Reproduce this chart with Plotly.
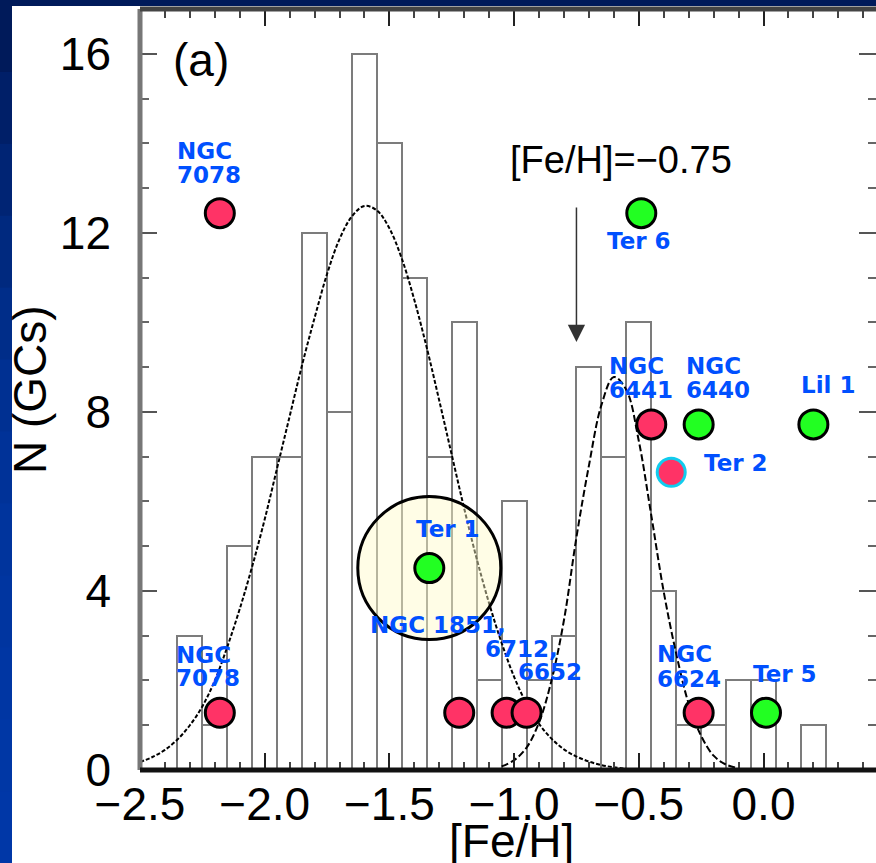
import plotly.graph_objects as go

# ---------------- data ----------------
bin_centers = [-2.3, -2.2, -2.1, -2.0, -1.9, -1.8, -1.7, -1.6, -1.5, -1.4, -1.3, -1.2,
               -1.1, -1.0, -0.9, -0.8, -0.7, -0.6, -0.5, -0.4, -0.3, -0.2, -0.1, 0.0, 0.2]
bin_counts = [3, 1, 5, 7, 7, 12, 8, 16, 14, 11, 7, 10,
              2, 6, 2, 3, 9, 7, 10, 4, 1, 1, 2, 2, 1]
bin_width = 0.1

# metal-poor fit curve
mp_x = [-2.50, -2.45, -2.40, -2.35, -2.30, -2.25, -2.20, -2.15, -2.10, -2.05, -2.00, -1.95,
        -1.90, -1.85, -1.80, -1.75, -1.70, -1.65, -1.60, -1.55, -1.50, -1.45, -1.40, -1.35,
        -1.30, -1.25, -1.20, -1.15, -1.10, -1.05, -1.00, -0.95, -0.90, -0.85, -0.80, -0.75,
        -0.70, -0.65, -0.60, -0.55]
mp_y = [0.18, 0.29, 0.45, 0.68, 1.00, 1.42, 2.00, 2.75, 3.60, 4.55, 5.60, 6.75,
        7.90, 9.05, 10.10, 11.08, 11.86, 12.37, 12.60, 12.50, 12.10, 11.42, 10.50, 9.43,
        8.25, 7.04, 5.84, 4.72, 3.72, 2.84, 2.08, 1.48, 1.03, 0.70, 0.46, 0.30,
        0.19, 0.11, 0.06, 0.03]

# metal-rich fit curve
mr_x = [-1.05, -1.00, -0.95, -0.90, -0.85, -0.80, -0.75, -0.70, -0.65, -0.60, -0.55,
        -0.50, -0.45, -0.40, -0.35, -0.30, -0.25, -0.20, -0.15, -0.10]
mr_y = [0.08, 0.22, 0.50, 1.06, 2.00, 3.35, 5.20, 6.80, 8.15, 8.78, 8.49,
        7.35, 5.69, 3.98, 2.60, 1.48, 0.76, 0.32, 0.12, 0.04]

# highlighted clusters
red_names = ["NGC 7078", "NGC 7078", "NGC 1851", "NGC 6712", "NGC 6652", "NGC 6441", "NGC 6624"]
red_feh = [-2.18, -2.18, -1.22, -1.03, -0.95, -0.45, -0.26]
red_row = [12.44, 1.28, 1.28, 1.28, 1.28, 7.72, 1.28]

green_names = ["Ter 6", "Ter 1", "NGC 6440", "Lil 1", "Ter 5"]
green_feh = [-0.49, -1.34, -0.26, 0.20, 0.01]
green_row = [12.44, 4.51, 7.72, 7.72, 1.28]

ter2_feh = [-0.37]
ter2_row = [6.65]

ring_feh = [-1.34]
ring_row = [4.51]

label_texts = ["NGC", "7078", "NGC", "7078", "Ter 6", "Ter 1", "NGC 1851,", "6712,", "6652",
               "NGC", "6441", "NGC", "6440", "Lil 1", "Ter 2", "NGC", "6624", "Ter 5"]
label_x = [-2.352, -2.352, -2.356, -2.356, -0.626, -1.394, -1.579, -1.118, -0.986,
           -0.619, -0.619, -0.312, -0.312, 0.150, -0.238, -0.428, -0.428, -0.044]
label_y = [13.82, 13.29, 2.57, 2.05, 11.82, 5.38, 3.24, 2.70, 2.18,
           9.03, 8.49, 9.03, 8.49, 8.60, 6.86, 2.59, 2.03, 2.15]

x_tick_vals = [-2.5, -2.0, -1.5, -1.0, -0.5, 0.0]
x_tick_text = ["\u22122.5", "\u22122.0", "\u22121.5", "\u22121.0", "\u22120.5", "0.0"]
y_tick_vals = [0, 4, 8, 12, 16]
y_tick_text = ["0", "4", "8", "12", "16"]

arrow_feh = -0.75
arrow_top = 12.6
arrow_tip = 9.56

# ---------------- figure ----------------
W, H = 876, 863
ML, MR, MT, MB = 140, 0, 9, 93
PW, PH = W - ML - MR, H - MT - MB

def px_to_paper_x(px):
    return (px - ML) / PW

def px_to_paper_y(py):
    return (H - MB - py) / PH

fig = go.Figure()

fig.add_trace(go.Bar(
    x=bin_centers, y=bin_counts, width=bin_width,
    marker=dict(color="rgba(0,0,0,0)", line=dict(color="#7c7c7c", width=2)),
    hoverinfo="skip"))

fig.add_trace(go.Scatter(
    x=mp_x, y=mp_y, mode="lines", line_shape="spline",
    line=dict(color="black", width=2, dash="4px,2px"), hoverinfo="skip"))

fig.add_trace(go.Scatter(
    x=mr_x, y=mr_y, mode="lines", line_shape="spline",
    line=dict(color="black", width=2, dash="7px,3px"), hoverinfo="skip"))

fig.add_trace(go.Scatter(
    x=ring_feh, y=ring_row, mode="markers",
    marker=dict(size=143, color="rgba(255,250,200,0.45)", line=dict(color="black", width=3)),
    hoverinfo="skip"))

fig.add_trace(go.Scatter(
    x=red_feh, y=red_row, mode="markers", text=red_names,
    marker=dict(size=29, color="#ff3366", line=dict(color="black", width=3))))

fig.add_trace(go.Scatter(
    x=green_feh, y=green_row, mode="markers", text=green_names,
    marker=dict(size=29, color="#22ff22", line=dict(color="black", width=3))))

fig.add_trace(go.Scatter(
    x=ter2_feh, y=ter2_row, mode="markers", text=["Ter 2"],
    marker=dict(size=28, color="#ff3366", line=dict(color="#11ccee", width=3))))

annotations = []
for t, lx, ly in zip(label_texts, label_x, label_y):
    annotations.append(dict(
        x=lx, y=ly, xref="x", yref="y", text=t, showarrow=False,
        xanchor="left", yanchor="middle", xshift=-2,
        font=dict(family="DejaVu Sans", size=23, color="#0050ff", weight="bold")))

annotations.append(dict(
    x=arrow_feh, y=arrow_tip, ax=arrow_feh, ay=arrow_top,
    xref="x", yref="y", axref="x", ayref="y", text="", showarrow=True,
    arrowhead=2, arrowsize=2.3, arrowwidth=1.5, arrowcolor="#333333"))

annotations.append(dict(
    x=-0.572, y=13.63, xref="x", yref="y", text="[Fe/H]=\u22120.75", showarrow=False,
    xanchor="center", yanchor="middle",
    font=dict(family="Liberation Sans", size=38, color="black")))

annotations.append(dict(
    x=-2.256, y=15.86, xref="x", yref="y", text="(a)", showarrow=False,
    xanchor="center", yanchor="middle",
    font=dict(family="Liberation Sans", size=46, color="black")))

annotations.append(dict(
    x=px_to_paper_x(511), y=px_to_paper_y(841), xref="paper", yref="paper",
    text="[Fe/H]", showarrow=False, xanchor="center", yanchor="middle",
    font=dict(family="Liberation Sans", size=46, color="black")))

annotations.append(dict(
    x=px_to_paper_x(30), y=px_to_paper_y(390), xref="paper", yref="paper",
    text="N (GCs)", textangle=-90, showarrow=False, xanchor="center", yanchor="middle",
    font=dict(family="Liberation Sans", size=46, color="black")))

shapes = []
# slide background strips
strip_colors = ["#001a5a", "#001f68", "#002474", "#00297f", "#002d89", "#003092",
                "#003298", "#00349d", "#0035a0", "#0036a3", "#0037a5", "#0037a7"]
band = H / len(strip_colors)
for i, c in enumerate(strip_colors):
    shapes.append(dict(type="rect", xref="paper", yref="paper",
                       x0=px_to_paper_x(0), x1=px_to_paper_x(12),
                       y0=px_to_paper_y(i * band), y1=px_to_paper_y((i + 1) * band + 1),
                       fillcolor=c, line=dict(width=0), layer="above"))
shapes.append(dict(type="rect", xref="paper", yref="paper",
                   x0=px_to_paper_x(0), x1=px_to_paper_x(W),
                   y0=px_to_paper_y(0), y1=px_to_paper_y(6),
                   fillcolor="#001a5a", line=dict(width=0), layer="above"))
# axis frame lines
shapes.append(dict(type="line", xref="paper", yref="paper", x0=0, x1=0, y0=0, y1=1,
                   line=dict(color="#777777", width=5), layer="above"))
shapes.append(dict(type="line", xref="paper", yref="paper", x0=0, x1=1, y0=0, y1=0,
                   line=dict(color="#111111", width=5), layer="above"))
shapes.append(dict(type="line", xref="paper", yref="paper", x0=0, x1=1, y0=1, y1=1,
                   line=dict(color="#444444", width=5), layer="above"))

fig.update_layout(
    width=W, height=H,
    margin=dict(l=ML, r=MR, t=MT, b=MB, pad=0),
    paper_bgcolor="white", plot_bgcolor="white",
    showlegend=False, bargap=0,
    annotations=annotations, shapes=shapes,
    xaxis=dict(
        range=[-2.5, -2.5 + PW / 249.4], tickmode="array",
        tickvals=x_tick_vals, ticktext=x_tick_text,
        ticks="inside", ticklen=17, tickwidth=2, tickcolor="#222222",
        mirror="ticks", showline=False, showgrid=False, zeroline=False,
        tickfont=dict(family="Liberation Sans", size=46, color="black"),
        ticklabelstandoff=3,
        minor=dict(tickmode="linear", tick0=0, dtick=0.1, ticks="inside", ticklen=8.5,
                   tickwidth=2, tickcolor="#444444", showgrid=False),
    ),
    yaxis=dict(
        range=[0, 17], tickmode="array", tickvals=y_tick_vals, ticktext=y_tick_text,
        ticks="inside", ticklen=17, tickwidth=2, tickcolor="#555555",
        mirror="ticks", showline=False, showgrid=False, zeroline=False,
        tickfont=dict(family="Liberation Sans", size=46, color="black"),
        ticklabelstandoff=28,
        minor=dict(tickmode="linear", tick0=0, dtick=1, ticks="inside", ticklen=8.5,
                   tickwidth=2, tickcolor="#666666", showgrid=False),
    ),
)

fig.write_html("out.html", config={"displayModeBar": False},
               post_script="document.body.style.margin='0';document.body.style.overflow='hidden';")
